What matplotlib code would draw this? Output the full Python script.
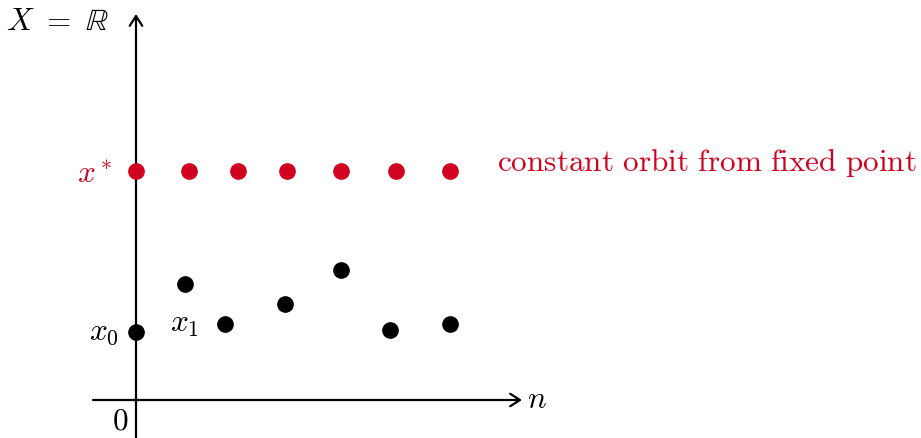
import matplotlib.pyplot as plt
import numpy as np

plt.rcParams['mathtext.fontset'] = 'cm'

# orbit positions (step n -> horizontal, value -> vertical), in drawing units
n_pos = [136, 189, 238, 287, 341, 396, 450]
fixed_val = [172, 172, 172, 172, 172, 172, 172]
orbit_n = [136, 185, 225, 285, 341, 390, 450]
orbit_val = [333, 285, 325, 305, 271, 331, 325]

red = '#d0021f'

fig = plt.figure(figsize=(9.21, 4.39), dpi=100)
ax = fig.add_axes([0, 0, 1, 1])
ax.set_xlim(0, 921)
ax.set_ylim(439, 0)
ax.axis('off')

# axes with arrows
arr = dict(arrowstyle='->,head_length=0.7,head_width=0.45', lw=1.6, color='black',
           shrinkA=0, shrinkB=0)
ax.annotate('', xy=(522, 401), xytext=(93, 401), arrowprops=arr)
ax.annotate('', xy=(136, 15), xytext=(136, 439), arrowprops=arr)

ax.plot(n_pos, fixed_val, 'o', color=red, ms=11, zorder=3)
ax.plot(orbit_n, orbit_val, 'o', color='black', ms=11, zorder=3)

fs = 22.5
ax.text(57, 22, r'$X\ =\ \mathbb{R}$', fontsize=fs, ha='center', va='center')
ax.text(95, 175, r'$x^*$', fontsize=fs, ha='center', va='center', color=red)
ax.text(104, 333, r'$x_0$', fontsize=fs, ha='center', va='center')
ax.text(185, 325, r'$x_1$', fontsize=fs, ha='center', va='center')
ax.text(120, 421, r'$0$', fontsize=fs, ha='center', va='center')
ax.text(537, 400, r'$n$', fontsize=fs, ha='center', va='center')
ax.text(497, 163, r'$\mathrm{constant\ orbit\ from\ fixed\ point}$', fontsize=fs,
        ha='left', va='center', color=red)

fig.savefig('out.png', dpi=100)
